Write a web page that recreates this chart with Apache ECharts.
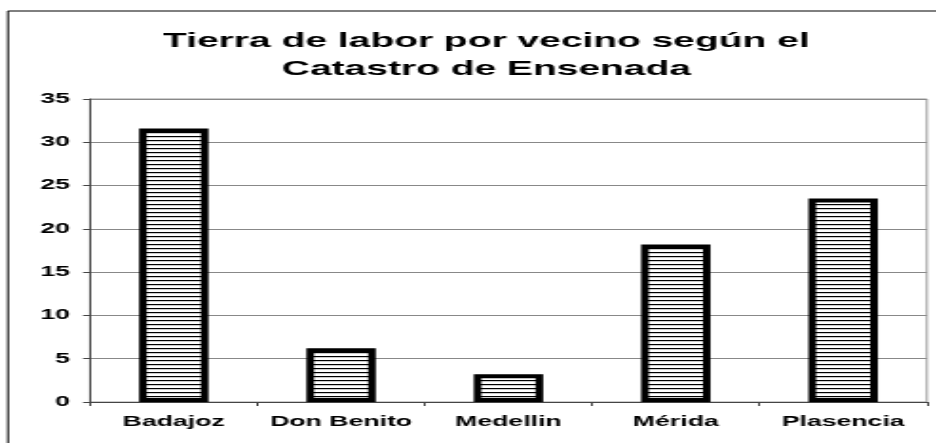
<!DOCTYPE html>
<html>
<head>
<meta charset="utf-8">
<script src="https://cdn.jsdelivr.net/npm/echarts@6/dist/echarts.min.js"></script>
<style>
  html, body { margin: 0; padding: 0; background: #fff; overflow: hidden; }
  /* the original picture is stretched sideways, so the chart is drawn narrow and widened */
  #chart {
    width: 492.6px;
    height: 443px;
    transform: scaleX(1.9);
    transform-origin: 0 0;
  }
</style>
</head>
<body>
<div id="chart"></div>
<script>
const categories = ['Badajoz', 'Don Benito', 'Medellin', 'Mérida', 'Plasencia']
const values = [31.6, 6.2, 3.2, 18.2, 23.5]
const yTicks = [0, 5, 10, 15, 20, 25, 30, 35]

// horizontal stripe fill
const stripe = document.createElement('canvas')
stripe.width = 4
stripe.height = 4
const ctx = stripe.getContext('2d')
ctx.fillStyle = '#fff'
ctx.fillRect(0, 0, 4, 4)
ctx.fillStyle = '#000'
ctx.fillRect(0, 0, 4, 1.2)

const chart = echarts.init(document.getElementById('chart'))

const option = {
    backgroundColor: '#fff',
    animation: false,
    title: {
        text: 'Tierra de labor por vecino según el\nCatastro de Ensenada',
        left: 251,
        textAlign: 'center',
        top: 22,
        textStyle: {
            fontFamily: 'Liberation Sans',
            fontWeight: 'bold',
            fontSize: 20.5,
            lineHeight: 28,
            color: '#000'
        }
    },
    graphic: [
        {
            type: 'rect',
            shape: { x: 4.2, y: 11, width: 1000, height: 1000 },
            style: { fill: null, stroke: '#000', lineWidth: 1 },
            silent: true
        }
    ],
    grid: {
        left: 47.4,
        right: 5.2,
        top: 99,
        bottom: 41,
        show: true,
        borderColor: '#999',
        borderWidth: 1
    },
    xAxis: {
        type: 'category',
        data: categories,
        axisLine: { lineStyle: { color: '#444', width: 1 } },
        axisTick: { show: true, length: 4, lineStyle: { color: '#444' } },
        axisLabel: {
            interval: 0,
            margin: 13,
            fontFamily: 'Liberation Sans',
            fontWeight: 'bold',
            fontSize: 14,
            color: '#000'
        }
    },
    yAxis: {
        type: 'value',
        min: yTicks[0],
        max: yTicks[yTicks.length - 1],
        interval: 5,
        axisLine: { show: true, lineStyle: { color: '#444', width: 1 } },
        axisTick: { show: true, length: 3.7, lineStyle: { color: '#444' } },
        splitLine: { lineStyle: { color: '#888', width: 1 } },
        axisLabel: {
            margin: 10.5,
            fontFamily: 'Liberation Sans',
            fontWeight: 'bold',
            fontSize: 14,
            color: '#000'
        }
    },
    series: [
        {
            type: 'bar',
            data: values,
            barWidth: 36.5,
            itemStyle: {
                color: { image: stripe, repeat: 'repeat' },
                borderColor: '#000',
                borderWidth: 4
            }
        }
    ]
}

chart.setOption(option)
</script>
</body>
</html>
